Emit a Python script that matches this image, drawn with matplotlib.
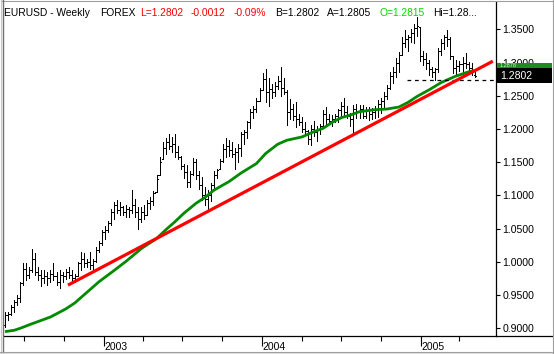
import numpy as np
import pandas as pd
import matplotlib
matplotlib.use("Agg")
import matplotlib.pyplot as plt
from matplotlib.patches import Rectangle
from matplotlib.lines import Line2D
from matplotlib.transforms import blended_transform_factory

plt.rcParams['font.family'] = ['Liberation Sans', 'DejaVu Sans']

# ---------------- data (weekly EURUSD, first week ending 2002-05-17) ----------------
start_date = "2002-05-17"
highs = [0.925, 0.925, 0.935, 0.943, 0.950, 0.970, 0.998, 0.998, 0.993, 1.020,
         1.013, 0.993, 0.988, 0.988, 0.985, 0.988, 0.998, 0.985, 0.988, 0.985,
         0.989, 0.993, 0.988, 0.982, 1.000, 1.015, 1.013, 1.005, 1.015, 1.005,
         1.022, 1.032, 1.048, 1.054, 1.062, 1.080, 1.090, 1.093, 1.090, 1.084,
         1.085, 1.083, 1.108, 1.095, 1.083, 1.082, 1.085, 1.093, 1.097, 1.106,
         1.130, 1.158, 1.180, 1.186, 1.193, 1.188, 1.193, 1.175, 1.160, 1.148,
         1.146, 1.137, 1.156, 1.155, 1.136, 1.128, 1.113, 1.108, 1.118, 1.136,
         1.140, 1.155, 1.178, 1.186, 1.183, 1.181, 1.172, 1.178, 1.196, 1.199,
         1.212, 1.230, 1.235, 1.246, 1.262, 1.284, 1.291, 1.276, 1.267, 1.270,
         1.279, 1.293, 1.276, 1.258, 1.245, 1.237, 1.240, 1.223, 1.218, 1.210,
         1.199, 1.206, 1.212, 1.204, 1.207, 1.228, 1.233, 1.222, 1.221, 1.223,
         1.230, 1.240, 1.246, 1.234, 1.224, 1.236, 1.238, 1.236, 1.236, 1.233,
         1.233, 1.232, 1.235, 1.243, 1.247, 1.256, 1.266, 1.285, 1.293, 1.307,
         1.316, 1.338, 1.349, 1.342, 1.350, 1.358, 1.368, 1.354, 1.318, 1.315,
         1.304, 1.294, 1.292, 1.322, 1.336, 1.341, 1.349, 1.338, 1.310, 1.304,
         1.302, 1.309, 1.314, 1.301, 1.300, 1.2885]
lows = [0.902, 0.912, 0.920, 0.925, 0.935, 0.940, 0.965, 0.973, 0.975, 0.985,
        0.980, 0.972, 0.963, 0.968, 0.965, 0.970, 0.973, 0.965, 0.960, 0.970,
        0.974, 0.975, 0.970, 0.969, 0.978, 0.988, 0.992, 0.993, 0.990, 0.985,
        1.000, 1.015, 1.025, 1.035, 1.045, 1.055, 1.065, 1.073, 1.070, 1.070,
        1.068, 1.068, 1.073, 1.068, 1.050, 1.060, 1.065, 1.070, 1.080, 1.085,
        1.105, 1.130, 1.155, 1.163, 1.170, 1.165, 1.158, 1.155, 1.140, 1.126,
        1.112, 1.112, 1.130, 1.125, 1.110, 1.093, 1.085, 1.078, 1.092, 1.110,
        1.126, 1.140, 1.150, 1.158, 1.160, 1.158, 1.140, 1.150, 1.160, 1.177,
        1.186, 1.202, 1.216, 1.225, 1.242, 1.259, 1.240, 1.234, 1.247, 1.250,
        1.260, 1.250, 1.252, 1.206, 1.215, 1.213, 1.203, 1.206, 1.196, 1.193,
        1.178, 1.176, 1.189, 1.182, 1.192, 1.203, 1.208, 1.208, 1.205, 1.210,
        1.210, 1.220, 1.218, 1.216, 1.205, 1.196, 1.216, 1.216, 1.216, 1.216,
        1.214, 1.215, 1.216, 1.218, 1.224, 1.230, 1.245, 1.260, 1.269, 1.278,
        1.286, 1.312, 1.323, 1.318, 1.331, 1.329, 1.340, 1.302, 1.296, 1.291,
        1.281, 1.278, 1.274, 1.285, 1.312, 1.320, 1.325, 1.305, 1.284, 1.280,
        1.287, 1.284, 1.292, 1.282, 1.281, 1.2775]
opens = [0.905, 0.920, 0.922, 0.932, 0.940, 0.945, 0.968, 0.990, 0.980, 0.988,
         1.005, 0.985, 0.980, 0.975, 0.978, 0.975, 0.982, 0.978, 0.970, 0.980,
         0.978, 0.985, 0.980, 0.975, 0.978, 0.998, 1.005, 0.998, 1.000, 0.995,
         1.002, 1.018, 1.028, 1.045, 1.048, 1.058, 1.075, 1.085, 1.078, 1.082,
         1.075, 1.080, 1.078, 1.085, 1.075, 1.065, 1.075, 1.070, 1.088, 1.092,
         1.105, 1.130, 1.155, 1.172, 1.180, 1.175, 1.178, 1.165, 1.158, 1.145,
         1.135, 1.120, 1.132, 1.150, 1.130, 1.115, 1.100, 1.095, 1.100, 1.115,
         1.130, 1.140, 1.152, 1.170, 1.175, 1.168, 1.162, 1.165, 1.172, 1.192,
         1.195, 1.210, 1.225, 1.230, 1.242, 1.259, 1.275, 1.255, 1.260, 1.255,
         1.265, 1.272, 1.262, 1.255, 1.225, 1.230, 1.220, 1.215, 1.210, 1.200,
         1.197, 1.185, 1.200, 1.195, 1.200, 1.205, 1.222, 1.215, 1.212, 1.215,
         1.220, 1.228, 1.235, 1.225, 1.220, 1.215, 1.230, 1.225, 1.230, 1.220,
         1.228, 1.222, 1.225, 1.230, 1.238, 1.242, 1.250, 1.262, 1.280, 1.285,
         1.300, 1.312, 1.330, 1.335, 1.338, 1.345, 1.352, 1.354, 1.310, 1.305,
         1.300, 1.290, 1.285, 1.290, 1.318, 1.330, 1.338, 1.335, 1.310, 1.292,
         1.295, 1.298, 1.300, 1.298, 1.292, 1.2815]
closes = [0.920, 0.922, 0.932, 0.940, 0.945, 0.968, 0.990, 0.980, 0.988, 1.005,
          0.985, 0.980, 0.975, 0.978, 0.975, 0.982, 0.978, 0.970, 0.980, 0.978,
          0.985, 0.980, 0.975, 0.978, 0.998, 1.005, 0.998, 1.000, 0.995, 1.002,
          1.018, 1.028, 1.045, 1.048, 1.058, 1.075, 1.085, 1.078, 1.082, 1.075,
          1.080, 1.078, 1.085, 1.075, 1.065, 1.075, 1.070, 1.088, 1.092, 1.104,
          1.125, 1.150, 1.172, 1.180, 1.175, 1.178, 1.165, 1.158, 1.145, 1.135,
          1.120, 1.132, 1.150, 1.130, 1.115, 1.100, 1.095, 1.100, 1.115, 1.130,
          1.138, 1.152, 1.170, 1.175, 1.168, 1.162, 1.165, 1.172, 1.192, 1.195,
          1.210, 1.225, 1.230, 1.242, 1.258, 1.275, 1.255, 1.260, 1.255, 1.265,
          1.272, 1.262, 1.255, 1.225, 1.230, 1.220, 1.215, 1.210, 1.200, 1.197,
          1.185, 1.200, 1.195, 1.200, 1.205, 1.222, 1.215, 1.212, 1.215, 1.220,
          1.228, 1.235, 1.225, 1.220, 1.215, 1.230, 1.225, 1.230, 1.220, 1.228,
          1.222, 1.225, 1.230, 1.238, 1.242, 1.250, 1.262, 1.280, 1.285, 1.300,
          1.312, 1.330, 1.335, 1.338, 1.345, 1.352, 1.355, 1.310, 1.305, 1.300,
          1.290, 1.285, 1.290, 1.318, 1.330, 1.338, 1.335, 1.310, 1.292, 1.295,
          1.298, 1.300, 1.298, 1.292, 1.288, 1.2802]

# moving average (green), read at week indices
ma_weeks = [0, 3, 5, 9, 12, 15, 20, 23, 26, 31, 36, 40, 45, 50, 53, 56, 59, 63, 66,
            69, 74, 78, 83, 86, 90, 93, 98, 102, 105, 108, 111, 114, 117, 122, 126,
            130, 133, 136, 140, 144, 148.5, 153, 155]
ma_values = [0.895, 0.897, 0.900, 0.907, 0.912, 0.917, 0.929, 0.938, 0.950, 0.970,
             0.987, 1.001, 1.020, 1.035, 1.048, 1.060, 1.073, 1.088, 1.097, 1.108,
             1.121, 1.134, 1.148, 1.163, 1.177, 1.183, 1.188, 1.196, 1.201, 1.210,
             1.217, 1.221, 1.226, 1.229, 1.230, 1.233, 1.240, 1.249, 1.259, 1.270,
             1.279, 1.286, 1.288]

# red trend line anchors (week index, price)
trend_weeks = [20.8, 161.0]
trend_prices = [0.965, 1.302]

support_level = 1.2735
support_from_week = 132.7

last_price = 1.2802
ma_last = 1.2878

y_ticks = [0.90, 0.95, 1.00, 1.05, 1.10, 1.15, 1.20, 1.25, 1.30, 1.35]
year_labels = ["2003", "2004", "2005"]
quarter_dates = ["2002-07-01", "2002-10-01", "2003-04-01", "2003-07-01", "2003-10-01",
                 "2004-04-01", "2004-07-01", "2004-10-01", "2005-04-01"]

title_parts = [("EURUSD - Weekly", "black", 4), ("FOREX", "black", 100),
               ("L=1.2802", "#ff0000", 140), ("-0.0012", "#ff0000", 191),
               ("-0.09%", "#ff0000", 234), ("B=1.2802", "black", 275),
               ("A=1.2805", "black", 327), ("O=1.2815", "#00d800", 380),
               ("Hi=1.28...", "black", 433)]

# ---------------- figure ----------------
W, H = 554, 354
fig = plt.figure(figsize=(W / 100, H / 100), dpi=100)
fig.patch.set_facecolor("white")

def fx(px):
    return px / W

def fy(py):
    return 1 - py / H

ax_left, ax_right, ax_top, ax_bottom = 3.5, 496.0, 2.0, 335.5
ax = fig.add_axes([fx(ax_left), fy(ax_bottom), fx(ax_right) - fx(ax_left), fy(ax_top) - fy(ax_bottom)])
ax.set_facecolor("white")

idx = np.arange(len(highs))
ppx = 0.001505  # price per pixel
ax.set_ylim(0.90 - (ax_bottom - 328.3) * ppx, 1.35 + (29.3 - ax_top) * ppx)
wpx = 3.03
ax.set_xlim((ax_left - 5) / wpx, (ax_right - 5) / wpx)

# OHLC bars
lw1 = 0.72
ax.vlines(idx, lows, highs, color="black", lw=lw1, antialiased=False, zorder=2)
ax.hlines(opens, idx - 0.34, idx, color="black", lw=lw1, antialiased=False, zorder=2)
ax.hlines(closes, idx, idx + 0.34, color="black", lw=lw1, antialiased=False, zorder=2)

# MA & trendline
ax.plot(ma_weeks, ma_values, color="#008a00", lw=2.0, zorder=3, solid_capstyle="butt")
ax.plot(trend_weeks, trend_prices, color="#ff0000", lw=2.3, zorder=4, solid_capstyle="butt")

# support dashed line
ax.hlines(support_level, support_from_week, ax.get_xlim()[1], color="black",
          lw=0.9, linestyles=(0, (3, 3)), zorder=3)

# axes styling
for s in ["left", "top"]:
    ax.spines[s].set_visible(False)
for s in ["right", "bottom"]:
    ax.spines[s].set_color("black")
    ax.spines[s].set_linewidth(0.9)

ax.yaxis.tick_right()
ax.set_yticks(y_ticks)
ax.set_yticklabels([f"{v:.4f}" for v in y_ticks])
ax.tick_params(axis="y", direction="out", length=3, width=0.8, pad=1.5, labelsize=7.6,
               colors="black")

t0 = pd.Timestamp(start_date)
def week_pos(d):
    return (pd.Timestamp(d) - t0).days / 7.0

major_pos = [week_pos(f"{y}-01-01") for y in year_labels]
minor_pos = [week_pos(d) for d in quarter_dates]
ax.set_xticks(major_pos)
ax.set_xticklabels([])
ax.set_xticks(minor_pos, minor=True)
ax.tick_params(axis="x", which="major", direction="out", length=7, width=0.8)
ax.tick_params(axis="x", which="minor", direction="out", length=3.5, width=0.8)
btrans = blended_transform_factory(ax.transData, fig.transFigure)
for p, lab in zip(major_pos, year_labels):
    ax.text(p + 0.2, fy(346.5), lab, transform=btrans, ha="left", va="center",
            fontsize=7.5, color="black", clip_on=False)

# right-axis value boxes
rtrans = blended_transform_factory(fig.transFigure, ax.transData)
hh = 7.2 * ppx
green_box = Rectangle((fx(496.5), ma_last - hh), fx(552) - fx(496.5), 2 * hh,
                      transform=rtrans, facecolor="#1e8c1e", edgecolor="none",
                      clip_on=False, zorder=5)
ax.add_patch(green_box)
black_box = Rectangle((fx(496.5), last_price - hh), fx(552) - fx(496.5), 2 * hh,
                      transform=rtrans, facecolor="black", edgecolor="none",
                      clip_on=False, zorder=7)
ax.add_patch(black_box)
# MA value: only a thin sliver of its box shows above the last-price box
ax.text(fx(500), (last_price + hh + ma_last + hh) / 2, f"{ma_last:.4f}", transform=rtrans,
        ha="left", va="center", fontsize=4.0, color="#d8f0d8", clip_on=False, zorder=6)
ax.text(fx(500), last_price, f"{last_price:.4f}", transform=rtrans, ha="left",
        va="center", fontsize=7.6, color="white", clip_on=False, zorder=8)

# title
for txt, col, px in title_parts:
    fig.text(fx(px), fy(13), txt, color=col, fontsize=7.4, ha="left", va="center")

# frame
def fline(x0, y0, x1, y1, col, lw=0.8):
    fig.add_artist(Line2D([fx(x0), fx(x1)], [fy(y0), fy(y1)], color=col, lw=lw,
                          transform=fig.transFigure))

fline(496, ax_bottom, 552, ax_bottom, "black", 0.9)
fline(0.5, 0.5, 553, 0.5, "#a0a0a0")
fline(2.7, 0, 2.7, 352, "#707070", 1.0)
fline(0.5, 0, 0.5, 354, "#c8c8c8")
fline(552.5, 0, 552.5, 354, "#a0a0a0")
fline(0, 351.5, 554, 351.5, "#a0a0a0")
fig.add_artist(Rectangle((0, 0), 1, fy(352), transform=fig.transFigure,
                         facecolor="#e0e0e0", edgecolor="none"))

fig.savefig("out.png", dpi=100)
